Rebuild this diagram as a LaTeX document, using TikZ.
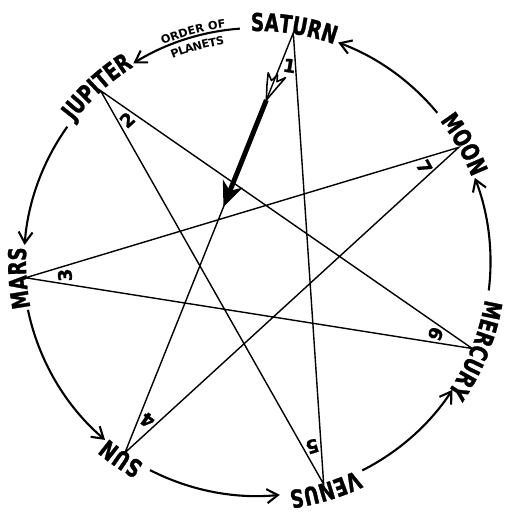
\documentclass[tikz,border=0pt]{standalone}
\usepackage{fontspec}
\usetikzlibrary{arrows.meta,calc,decorations.text}
\newfontfamily\planetfont[FakeStretch=0.75,FakeBold=1.2]{DejaVu Sans Bold}
\newfontfamily\labelfont{DejaVu Sans Bold}
\newfontfamily\numberfont[FakeBold=1]{DejaVu Sans Bold}
\newcommand\planetname{\planetfont\fontsize{14}{16}\selectfont}
\newcommand\ordername{\labelfont\fontsize{6.4}{7}\selectfont}
\newcommand\daynum{\numberfont\fontsize{10.5}{12}\selectfont}
\begin{document}
\begin{tikzpicture}[x=1cm,y=1cm,
  line/.style={line width=0.8pt},
  orbit/.style={line width=1.2pt,-{Straight Barb[length=2.2mm,width=2.8mm]}},
  num/.style={font=\daynum,inner sep=0pt}]
\useasboundingbox (-5.14,-5.02) rectangle (4.96,5.24);

\coordinate (saturn) at (81:4.64);
\coordinate (jupiter) at (132.4:4.64);
\coordinate (mars) at (183.9:4.64);
\coordinate (sun) at (235.3:4.64);
\coordinate (venus) at (286.7:4.64);
\coordinate (mercury) at (338.1:4.64);
\coordinate (moon) at (29.6:4.64);

\draw[line] (saturn) -- (sun) -- (moon) -- (mars) -- (mercury) -- (jupiter) -- (venus) -- cycle;

% planet names
\path[decorate,decoration={text along path,text align=center,text={|\planetname|SATURN}}] (111:4.62) arc[start angle=111,end angle=51,radius=4.62];
\path[decorate,decoration={text along path,text align=center,text={|\planetname|JUPITER}}] (162.4:4.62) arc[start angle=162.4,end angle=102.4,radius=4.62];
\path[decorate,decoration={text along path,text align=center,text={|\planetname|MARS}}] (213.9:4.62) arc[start angle=213.9,end angle=153.9,radius=4.62];
\path[decorate,decoration={text along path,text align=center,text={|\planetname|SUN}}] (265.3:4.62) arc[start angle=265.3,end angle=205.3,radius=4.62];
\path[decorate,decoration={text along path,text align=center,text={|\planetname|VENUS}}] (316.7:4.62) arc[start angle=316.7,end angle=256.7,radius=4.62];
\path[decorate,decoration={text along path,text align=center,text={|\planetname|MERCURY}}] (368.1:4.62) arc[start angle=368.1,end angle=308.1,radius=4.62];
\path[decorate,decoration={text along path,text align=center,text={|\planetname|MOON}}] (59.6:4.62) arc[start angle=59.6,end angle=-0.4,radius=4.62];

% order of planets
\draw[orbit] (39.6:4.68) arc[start angle=39.6,end angle=69.7,radius=4.68];
\draw[orbit] (94.2:4.68) arc[start angle=94.2,end angle=121.9,radius=4.68];
\draw[orbit] (144.5:4.66) arc[start angle=144.5,end angle=175.8,radius=4.66];
\draw[orbit] (191.8:4.68) arc[start angle=191.8,end angle=229.5,radius=4.68];
\draw[orbit] (242.8:4.68) arc[start angle=242.8,end angle=275.6,radius=4.68];
\draw[orbit] (296.8:4.67) arc[start angle=296.8,end angle=326.8,radius=4.67];
\draw[orbit] (353:4.67) arc[start angle=353,end angle=381.1,radius=4.67];

\path[decorate,decoration={text along path,text align=center,raise=1.5pt,text={|\ordername|ORDER OF}}] (125.5:4.68) arc[start angle=125.5,end angle=85.5,radius=4.68];
\path[decorate,decoration={text along path,text align=center,raise=-8pt,text={|\ordername|PLANETS}}] (125.5:4.68) arc[start angle=125.5,end angle=85.5,radius=4.68];

% numbers
\node[num,rotate=-9.4] (n1) at (80.6:3.98) {1};
\node[num,rotate=42.4] (n2) at (132.4:3.85) {2};
\node[num,rotate=93.9] (n3) at (183.9:3.85) {3};
\node[num,rotate=145.3] (n4) at (235.3:3.85) {4};
\node[num,rotate=196.7] (n5) at (286.7:3.85) {5};
\node[num,rotate=248.1] (n6) at (338.1:3.85) {6};
\node[num,rotate=-60.4] (n7) at (29.6:3.85) {7};

% arrow
\coordinate (tail) at ($(saturn)!0.16!(sun)$);
\coordinate (tip) at ($(saturn)!0.415!(sun)$);
\draw[line width=2.8pt,-{Stealth[length=5mm,width=4.2mm,inset=1.5mm]}] (tail) -- (tip);
\begin{scope}[shift={(tail)},rotate=248.1]
\draw[line width=0.9pt,line join=round] (0,0) -- (-0.3,0.1) -- (-0.56,0.19) -- (-0.42,0.06) -- (-0.55,0.02) -- (-0.4,-0.05) -- (-0.52,-0.17) -- (-0.28,-0.1) -- cycle;
\end{scope}
\end{tikzpicture}
\end{document}
